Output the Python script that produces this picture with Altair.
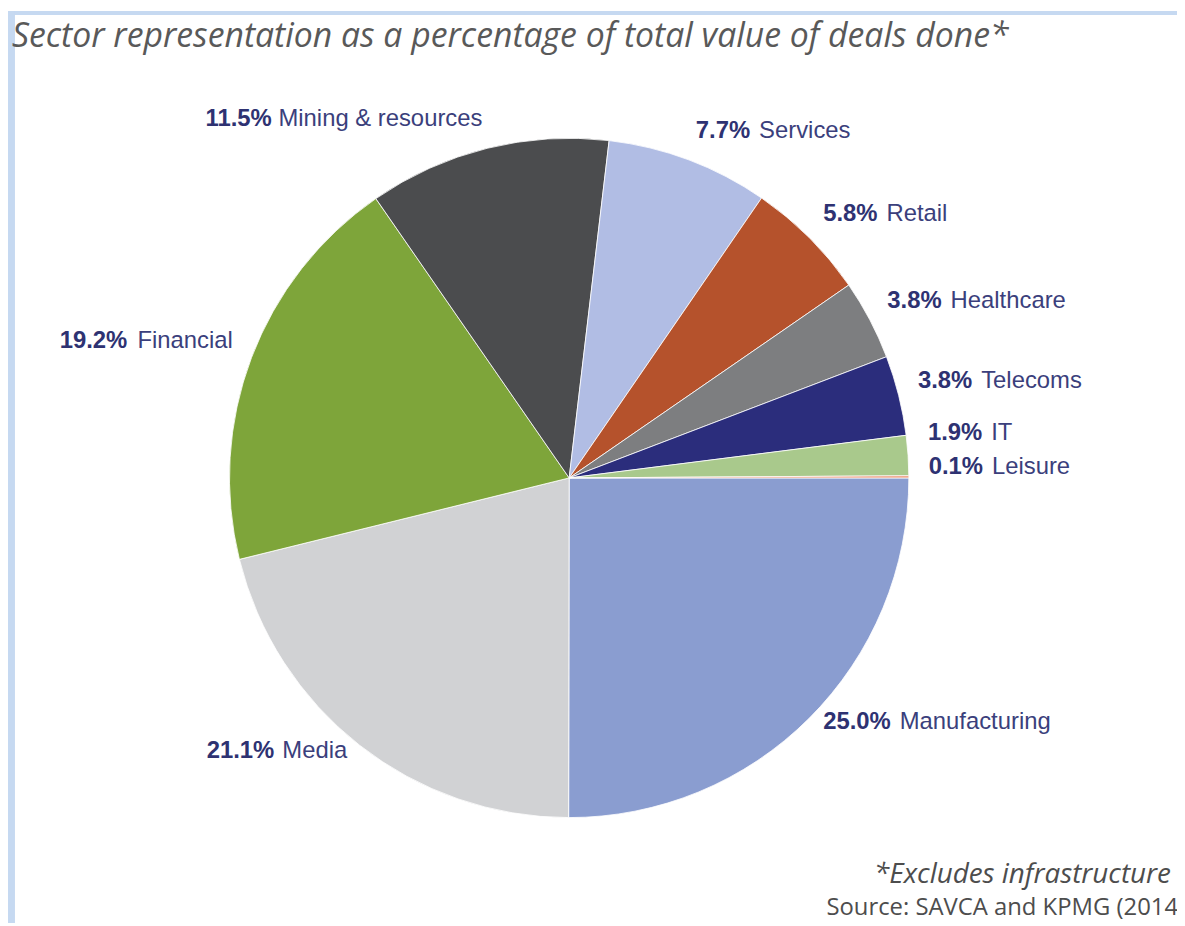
import altair as alt
import pandas as pd

# ---------------- data ----------------
SECTORS = ["Manufacturing", "Media", "Financial", "Mining & resources", "Services",
           "Retail", "Healthcare", "Telecoms", "IT", "Leisure"]
VALUES = [25.0, 21.1, 19.2, 11.5, 7.7, 5.8, 3.8, 3.8, 1.9, 0.1]
COLORS = ["#8a9dd0", "#d1d2d4", "#7ea53a", "#4b4c4e", "#b1bde4",
          "#b5522c", "#7d7e80", "#2b2d7c", "#a9c98c", "#e98f6e"]
TITLE = "Sector representation as a percentage of total value of deals done*"
FOOTNOTE = "*Excludes infrastructure"
SOURCE = "Source: SAVCA and KPMG (2014)"

# ---------------- layout ----------------
W, H = 1177, 918
CX, CY, R = 565, 470, 342
RL = 362          # label radius
LCY = CY - 10     # label ring centre (y)
FS = 24           # label font size
MIN_SEP = 34      # minimum vertical spacing between neighbouring labels
LABEL_FONT = "Liberation Sans"
NAVY = "#2e3272"
NAME_COL = "#3b3f7c"
GAP = 9
EMW = FS          # em width in px

df = pd.DataFrame({
    "sector": SECTORS,
    "value": VALUES,
    "pct": [f"{v:.1f}%" for v in VALUES],
    "order": list(range(len(SECTORS))),
})

base = alt.Chart(df)

pie = base.mark_arc(outerRadius=R, stroke="#ffffff", strokeWidth=0.8).encode(
    theta=alt.Theta("value:Q", stack=True,
                    scale=alt.Scale(range=[1.5707963, 1.5707963 + 6.2831853])),
    color=alt.Color("sector:N", scale=alt.Scale(domain=SECTORS, range=COLORS), legend=None),
    order=alt.Order("order:Q"),
    x=alt.value(CX),
    y=alt.value(CY),
)

def cnt(field, cls):
    return f"length(replace(datum.{field}, regexp('[^{cls}]', 'g'), ''))"

name_w = (
    f"({EMW})*(0.556*length(datum.sector) - 0.334*{cnt('sector','ijl')}"
    f" - 0.266*{cnt('sector','ftrI ')} + 0.244*{cnt('sector','mwMW')}"
    f" + 0.111*{cnt('sector','A-HJ-LN-VX-Z&')} - 0.056*{cnt('sector','cksvxyz')})"
)
pct_w = f"({EMW})*(0.556*(length(datum.pct)-2) + 0.278 + 0.889)"

lab = (
    base.transform_window(cum="sum(value)", sort=[alt.SortField("order")])
    .transform_joinaggregate(total="sum(value)")
    .transform_calculate(
        a="2*PI*(datum.cum - datum.value/2)/datum.total",
    )
    .transform_calculate(
        ax=f"{CX} + {RL}*cos(datum.a)",
        ay0=f"{LCY} + {RL}*sin(datum.a)",
        side="cos(datum.a) >= 0 ? 'R' : 'L'",
        nw=name_w,
        pw=pct_w,
    )
    .transform_window(next_ay="lead(ay0)", next_side="lead(side)",
                      sort=[alt.SortField("order")], frame=[None, None])
    .transform_calculate(
        ay=(f"(datum.next_ay != null && datum.next_side == datum.side && "
            f"datum.next_ay > datum.ay0 && datum.next_ay - datum.ay0 < {MIN_SEP})"
            f" ? datum.next_ay - {MIN_SEP} : datum.ay0"),
        px=f"datum.side == 'R' ? datum.ax : datum.ax - datum.nw - {GAP}",
        nx=f"datum.side == 'R' ? datum.ax + datum.pw + {GAP} : datum.ax",
    )
)

xs = alt.Scale(domain=[0, W], range=[0, W])
ys = alt.Scale(domain=[0, H], range=[0, H])

def txt(side, field, xfield, bold):
    return lab.transform_filter(f"datum.side == '{side}'").mark_text(
        align="left" if side == "R" else "right", baseline="middle",
        font=LABEL_FONT, fontSize=FS,
        fontWeight="bold" if bold else "normal",
        color=NAVY if bold else NAME_COL,
    ).encode(
        x=alt.X(f"{xfield}:Q", scale=xs, axis=None),
        y=alt.Y("ay:Q", scale=ys, axis=None),
        text=f"{field}:N",
    )

pct_R = txt("R", "pct", "px", True)
name_R = txt("R", "sector", "nx", False)
pct_L = txt("L", "pct", "px", True)
name_L = txt("L", "sector", "nx", False)

one = alt.Chart(pd.DataFrame({"k": [0]}))

frame_top = one.mark_rect(color="#c6d9f1").encode(
    x=alt.value(0), x2=alt.value(W), y=alt.value(0), y2=alt.value(4))
frame_left = one.mark_rect(color="#c6d9f1").encode(
    x=alt.value(0), x2=alt.value(7), y=alt.value(0), y2=alt.value(H))

title = alt.Chart(pd.DataFrame({"t": [TITLE]})).mark_text(
    align="left", baseline="alphabetic", font="Open Sans", fontStyle="italic",
    fontSize=34, color="#595959"
).encode(x=alt.value(4), y=alt.value(36), text="t:N")

foot1 = alt.Chart(pd.DataFrame({"t": [FOOTNOTE]})).mark_text(
    align="left", baseline="alphabetic", font="Open Sans", fontStyle="italic",
    fontSize=28, color="#4d4d4d"
).encode(x=alt.value(872), y=alt.value(878), text="t:N")

foot2 = alt.Chart(pd.DataFrame({"t": [SOURCE]})).mark_text(
    align="left", baseline="alphabetic", font="Open Sans",
    fontSize=24, color="#4d4d4d"
).encode(x=alt.value(824), y=alt.value(910), text="t:N")

chart = alt.layer(
    frame_top, frame_left, pie, pct_R, name_R, pct_L, name_L, title, foot1, foot2
).properties(
    width=W, height=H, padding=0, autosize=alt.AutoSizeParams(type="none")
).configure_view(stroke=None)

chart.save("out.html", embed_options={"renderer": "svg", "actions": False})
